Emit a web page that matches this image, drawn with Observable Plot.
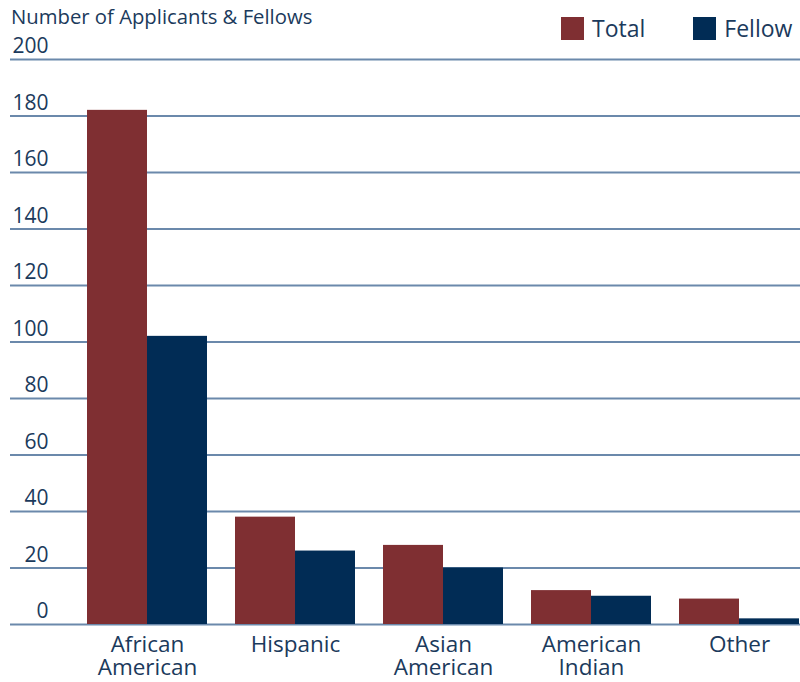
<!DOCTYPE html>
<html>
<head>
<meta charset="utf-8">
<script src="https://cdn.jsdelivr.net/npm/d3@7"></script>
<script src="https://cdn.jsdelivr.net/npm/@observablehq/plot@0.6"></script>
<style>
  html, body { margin: 0; padding: 0; background: white; overflow: hidden; }
  #wrap { position: relative; width: 800px; height: 682px; font-family: "Open Sans", sans-serif; color: #1b3a5c; }
  #title { position: absolute; left: 11px; top: 4px; font-size: 20.3px; line-height: 24px; white-space: nowrap; }
  #legend { position: absolute; left: 561px; top: 12px; display: flex; align-items: center; font-size: 23px; line-height: 32px; white-space: nowrap; }
  .item { display: flex; align-items: center; }
  .sw { width: 23px; height: 23px; margin-right: 8px; }
  .layer { position: absolute; left: 0; top: 0; }
</style>
</head>
<body>
<div id="wrap">
  <div id="grid" class="layer"></div>
  <div id="bars" class="layer"></div>
  <div id="title"></div>
  <div id="legend"></div>
</div>
<script>
const categories = ["African American", "Hispanic", "Asian American", "American Indian", "Other"];
const tickLabels = ["African\nAmerican", "Hispanic", "Asian\nAmerican", "American\nIndian", "Other"];
const seriesNames = ["Total", "Fellow"];
const totalValues = [182, 38, 28, 12, 9];
const fellowValues = [102, 26, 20, 10, 2];
const yTicks = [0, 20, 40, 60, 80, 100, 120, 140, 160, 180, 200];
const seriesColors = ["#7f2f32", "#012c55"];
const titleText = "Number of Applicants & Fellows";

const gridColor = "#6b89ab";
const textColor = "#1b3a5c";

const data = categories.flatMap((c, i) => [
  {category: c, series: seriesNames[0], value: totalValues[i]},
  {category: c, series: seriesNames[1], value: fellowValues[i]}
]);

const common = {
  width: 800,
  height: 682,
  marginTop: 59,
  marginBottom: 58,
  marginLeft: 10,
  marginRight: 0,
  y: {domain: [0, 200], axis: null}
};

// base layer: gridlines and y tick labels
const gridPlot = Plot.plot({
  ...common,
  style: {fontFamily: "Open Sans", color: textColor, background: "white"},
  marks: [
    Plot.ruleY(yTicks, {y: d => d, stroke: gridColor, strokeWidth: 2}),
    Plot.text(yTicks, {y: d => d, text: d => String(d), frameAnchor: "left", textAnchor: "end", dx: 38, dy: -13, fontSize: 21, fill: textColor})
  ]
});
document.getElementById("grid").appendChild(gridPlot);

// top layer: grouped bars and category labels
const barPlot = Plot.plot({
  ...common,
  style: {fontFamily: "Open Sans", color: textColor, background: "transparent"},
  fx: {domain: categories, paddingInner: 0.19, paddingOuter: 0.259, align: 0.99, label: null},
  x: {domain: seriesNames, padding: 0, axis: null},
  color: {domain: seriesNames, range: seriesColors},
  marks: [
    Plot.barY(data, {fx: "category", x: "series", y: "value", fill: "series"}),
    Plot.axisFx({anchor: "bottom", tickSize: 0, tickPadding: 12, fontSize: 22.5, lineHeight: 1, lineAnchor: "top", fill: textColor, label: null,
      tickFormat: d => tickLabels[categories.indexOf(d)]})
  ]
});
document.getElementById("bars").appendChild(barPlot);

document.getElementById("title").textContent = titleText;
const legend = document.getElementById("legend");
seriesNames.forEach((s, i) => {
  const item = document.createElement("div");
  item.className = "item";
  if (i > 0) item.style.marginLeft = "48px";
  const sw = document.createElement("div");
  sw.className = "sw";
  sw.style.background = seriesColors[i];
  const lab = document.createElement("span");
  lab.textContent = s;
  item.appendChild(sw);
  item.appendChild(lab);
  legend.appendChild(item);
});
</script>
</body>
</html>
